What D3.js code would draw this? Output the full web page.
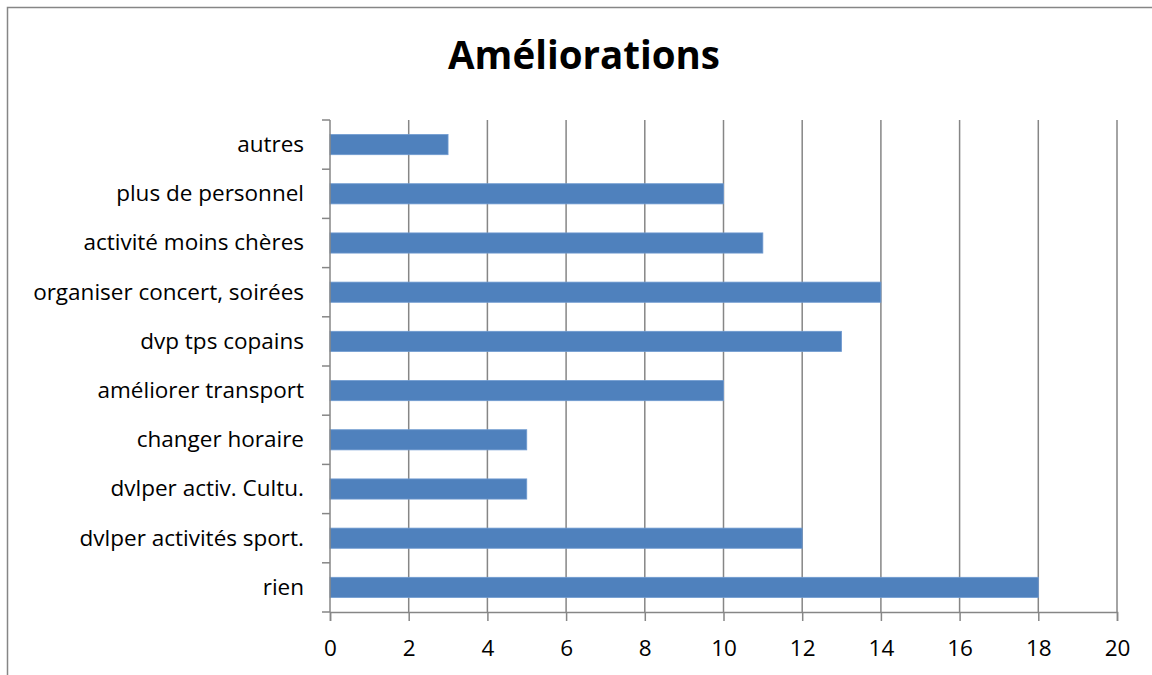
<!DOCTYPE html>
<html>
<head>
<meta charset="utf-8">
<script src="https://cdn.jsdelivr.net/npm/d3@7"></script>
<style>
  body { margin: 0; background: #fff; }
  text { font-family: "Open Sans", Lato, sans-serif; fill: #000; }
</style>
</head>
<body>
<script>
const categories = [
    "autres",
    "plus de personnel",
    "activité moins chères",
    "organiser concert, soirées",
    "dvp tps copains",
    "améliorer transport",
    "changer horaire",
    "dvlper activ. Cultu.",
    "dvlper activités sport.",
    "rien"
];
const values = [3, 10, 11, 14, 13, 10, 5, 5, 12, 18];
const xTicks = [0, 2, 4, 6, 8, 10, 12, 14, 16, 18, 20];

const width = 1152, height = 675;
const plotLeft = 330, plotRight = 1117, plotTop = 120, plotBottom = 612;

let svg = d3.select("body")
    .append("svg")
    .attr("width", width)
    .attr("height", height);

// chart border (runs off the right and bottom edge)
svg.append("rect")
    .attr("x", 7.5).attr("y", 7.5)
    .attr("width", 1160).attr("height", 700)
    .attr("fill", "none")
    .attr("stroke", "#868686")
    .attr("stroke-width", 1.5);

svg.append("text")
    .attr("x", 584).attr("y", 69)
    .attr("text-anchor", "middle")
    .style("font-size", "38.5px")
    .style("font-weight", "bold")
    .text("Améliorations");

let x = d3.scaleLinear().domain([0, 20]).range([plotLeft, plotRight]);
let y = d3.scaleBand().domain(categories).range([plotTop, plotBottom]).paddingInner(0.59).paddingOuter(0.295);
let yb = d3.scaleBand().domain(categories).range([plotTop, plotBottom]);

// vertical gridlines
svg.selectAll("line.grid")
    .data(xTicks.slice(1))
    .enter()
    .append("line")
    .attr("class", "grid")
    .attr("x1", d => x(d)).attr("x2", d => x(d))
    .attr("y1", plotTop).attr("y2", plotBottom)
    .attr("stroke", "#868686")
    .attr("stroke-width", 1.5);

// bars
svg.selectAll("rect.bar")
    .data(values)
    .enter()
    .append("rect")
    .attr("class", "bar")
    .attr("x", x(0))
    .attr("y", (d, i) => y(categories[i]))
    .attr("width", d => x(d) - x(0))
    .attr("height", y.bandwidth())
    .attr("fill", "#4F81BD")
    .attr("stroke", "#6f9ad0")
    .attr("stroke-width", 0.8);

// x axis
let xAxis = svg.append("g")
    .attr("transform", "translate(0," + plotBottom + ")")
    .call(d3.axisBottom(x).tickValues(xTicks).tickSize(9).tickPadding(19));
xAxis.select(".domain").attr("stroke", "#868686").attr("stroke-width", 1.5);
xAxis.selectAll(".tick line").attr("stroke", "#868686").attr("stroke-width", 1.5);
xAxis.selectAll(".tick text").style("font-size", "22.5px").style("font-family", "'Open Sans', sans-serif");

// y axis: ticks sit between categories
let yAxis = svg.append("g");
yAxis.append("line")
    .attr("x1", plotLeft).attr("x2", plotLeft)
    .attr("y1", plotTop).attr("y2", plotBottom)
    .attr("stroke", "#868686").attr("stroke-width", 1.5);
let bounds = categories.map(c => yb(c)).concat([plotBottom]);
yAxis.selectAll("line.ytick")
    .data(bounds)
    .enter()
    .append("line")
    .attr("class", "ytick")
    .attr("x1", plotLeft - 8).attr("x2", plotLeft)
    .attr("y1", d => d).attr("y2", d => d)
    .attr("stroke", "#868686").attr("stroke-width", 1.5);
yAxis.selectAll("text")
    .data(categories)
    .enter()
    .append("text")
    .attr("x", 304)
    .attr("y", d => yb(d) + yb.bandwidth() / 2)
    .attr("dy", "0.33em")
    .attr("text-anchor", "end")
    .style("font-size", "22.5px")
    .text(d => d);
</script>
</body>
</html>
